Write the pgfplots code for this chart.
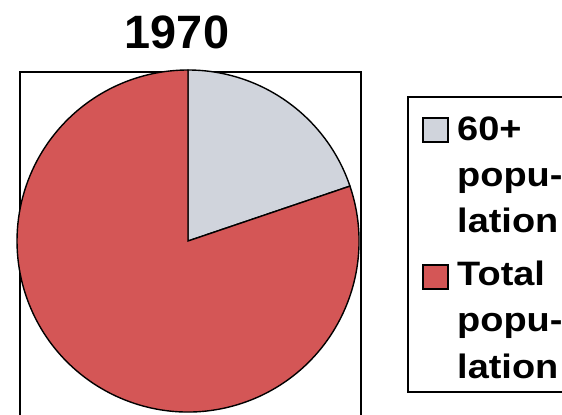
\documentclass[border=0pt]{standalone}
\usepackage{pgfplots}
\usepackage{pgfplotstable}
\pgfplotsset{compat=1.18}
\usepackage{fontspec}
\setmainfont{Liberation Sans}
\definecolor{pgray}{RGB}{208,212,220}
\definecolor{pred}{RGB}{212,86,86}
\pgfplotstableread{
group value
old 19.8
total 80.2
}\piedata
\newcommand{\lt}[1]{\scalebox{1.12}[1]{#1}}
\begin{document}
\begin{tikzpicture}[x=1bp,y=1bp]
\clip (0,0) rectangle (562,414);
\pgfplotstablegetelem{0}{value}\of\piedata \let\valA\pgfplotsretval
\pgfplotstablegetelem{1}{value}\of\piedata \let\valB\pgfplotsretval
\pgfmathsetmacro{\angA}{90-360*\valA/(\valA+\valB)}
\begin{axis}[
  at={(20,-5)}, anchor=south west,
  scale only axis, width=341bp, height=347bp,
  xmin=20, xmax=361, ymin=-5, ymax=342,
  xtick=\empty, ytick=\empty,
  axis line style={line width=1.4pt},
  clip=false,
]
\filldraw[fill=pgray, draw=black, line width=1.4pt]
  (axis cs:188,173) -- ++(90:171bp) arc[start angle=90, end angle=\angA, radius=171bp] -- cycle;
\filldraw[fill=pred, draw=black, line width=1.4pt]
  (axis cs:188,173) -- ++(\angA:171bp) arc[start angle=\angA, end angle=-270, radius=171bp] -- cycle;
\end{axis}
\node[anchor=base, font=\bfseries\fontsize{47}{47}\selectfont] at (177,366) {1970};
\draw[line width=1.4pt] (408,22) rectangle (600,317);
\filldraw[fill=pgray, draw=black, line width=1.2pt] (423,272) rectangle (448,296);
\filldraw[fill=pred, draw=black, line width=1.2pt] (423,125) rectangle (448,149);
\begin{scope}[every node/.style={anchor=base west, inner sep=0pt, font=\bfseries\fontsize{34}{34}\selectfont}]
\node at (457,274) {\lt{60+}};
\node at (457,228) {\lt{popu-}};
\node at (457,182) {\lt{lation}};
\node at (457,129) {\lt{Total}};
\node at (457,83) {\lt{popu-}};
\node at (457,36) {\lt{lation}};
\end{scope}
\end{tikzpicture}
\end{document}
